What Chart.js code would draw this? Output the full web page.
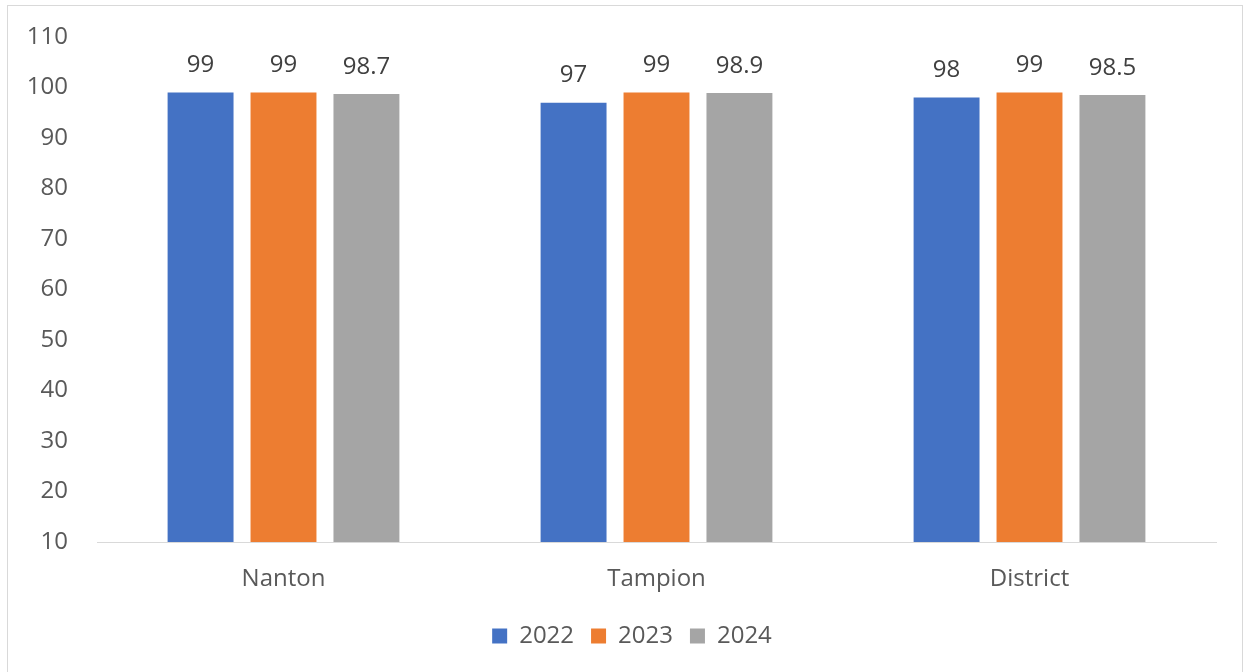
<!DOCTYPE html>
<html>
<head>
<meta charset="utf-8">
<script src="https://cdn.jsdelivr.net/npm/chart.js@4"></script>
<style>
  html, body { margin: 0; padding: 0; background: #fff; overflow: hidden; }
  #frame { position: absolute; left: 7px; top: 5px; width: 1234px; height: 680px; border: 1px solid #d9d9d9; }
  #wrap { position: relative; width: 1234px; height: 660px; }
</style>
</head>
<body>
<div id="frame"><div id="wrap"><canvas id="myChart"></canvas></div></div>
<script>
var categories = ['Nanton', 'Tampion', 'District'];
var years = ['2022', '2023', '2024'];
var values2022 = [99, 97, 98];
var values2023 = [99, 99, 99];
var values2024 = [98.7, 98.9, 98.5];
var yTicks = { min: 10, max: 110, step: 10 };

var FONT = "'Open Sans', sans-serif";

// value labels above each bar
var barLabels = {
    id: 'barLabels',
    afterLayout: function (chart) {
        // nudge the legend to sit where the original one does
        chart.legend.left += 20;
        chart.legend.right += 20;
    },
    afterDatasetsDraw: function (chart) {
        var ctx = chart.ctx;
        ctx.save();
        ctx.font = '24px ' + FONT;
        ctx.fillStyle = '#404040';
        ctx.textAlign = 'center';
        ctx.textBaseline = 'middle';
        chart.data.datasets.forEach(function (dataset, i) {
            var meta = chart.getDatasetMeta(i);
            meta.data.forEach(function (bar, index) {
                ctx.fillText(dataset.data[index], bar.x, bar.y - 27);
            });
        });
        ctx.restore();
    }
};

var ctx = document.getElementById('myChart').getContext('2d');
var myChart = new Chart(ctx, {
    type: 'bar',
    data: {
        labels: categories,
        datasets: [
            { label: years[0], data: values2022, backgroundColor: '#4472c4' },
            { label: years[1], data: values2023, backgroundColor: '#ed7d31' },
            { label: years[2], data: values2024, backgroundColor: '#a5a5a5' }
        ]
    },
    options: {
        responsive: true,
        maintainAspectRatio: false,
        animation: false,
        datasets: {
            bar: { categoryPercentage: 0.667, barPercentage: 0.795 }
        },
        layout: { padding: { top: 31, right: 26, bottom: 8, left: 0 } },
        scales: {
            x: {
                grid: { display: false, drawTicks: false },
                border: { display: true, color: '#d9d9d9', width: 1 },
                ticks: { color: '#595959', font: { family: FONT, size: 24 }, padding: 23 },
                afterFit: function (scale) { scale.height = 65; }
            },
            y: {
                min: yTicks.min,
                max: yTicks.max,
                grid: { display: false, drawTicks: false },
                border: { display: false },
                ticks: { stepSize: yTicks.step, color: '#595959', font: { family: FONT, size: 24 }, padding: 29 },
                afterFit: function (scale) {
                    scale.width = 89;
                    scale.paddingTop = 14;
                    scale.paddingBottom = 14;
                }
            }
        },
        plugins: {
            legend: {
                position: 'bottom',
                labels: {
                    color: '#595959',
                    font: { family: FONT, size: 24 },
                    boxWidth: 15,
                    boxHeight: 15,
                    padding: 17
                }
            },
            tooltip: { enabled: false }
        }
    },
    plugins: [barLabels]
});
</script>
</body>
</html>
